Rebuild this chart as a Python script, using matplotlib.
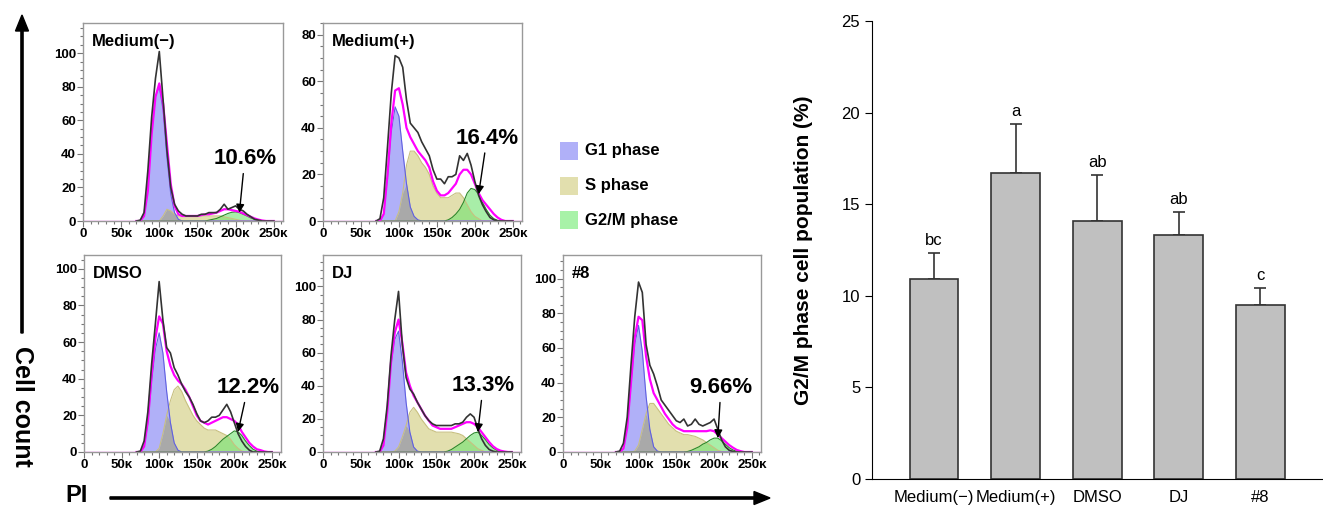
import numpy as np
import matplotlib
matplotlib.use('Agg')
import matplotlib.pyplot as plt
from matplotlib.patches import FancyArrow, Rectangle
from matplotlib.ticker import MultipleLocator

plt.rcParams['font.family'] = ['Liberation Sans', 'DejaVu Sans']

# PI channel (x1000)
pi_k = [70, 75, 80, 85, 90, 95, 100, 105, 110, 115, 120, 125, 130, 135, 140, 145, 150, 155, 160,
        165, 170, 175, 180, 185, 190, 195, 200, 205, 210, 215, 220, 225, 230, 235, 240, 245, 250]

# Medium(-)
mneg_g1 = [0, 0, 3, 18, 52, 74, 80, 66, 38, 16, 5, 1] + [0] * 25
mneg_s = [0] * 7 + [3, 7, 6, 4, 3, 3, 3, 3, 3, 3, 3, 3, 3, 3, 3, 3, 2.5, 2, 1.5, 1, 0.5] + [0] * 9
mneg_g2m = [0] * 19 + [0.5, 1, 1.5, 2.5, 3.5, 4.5, 5.2, 5.4, 5, 4, 3, 1.8, 1, 0.4] + [0] * 4
mneg_fit = [0, 0, 3, 18, 52, 74, 82, 70, 46, 22, 9, 4, 3, 3, 3, 3, 3, 3.5, 4, 4, 4.5, 5, 6, 7, 7,
            6.5, 6, 5.5, 4.5, 3.5, 2.5, 1.5, 0.8, 0.3, 0, 0, 0]
mneg_data = [0, 0.5, 5, 30, 62, 85, 101, 72, 42, 20, 10, 6, 4, 3, 3, 3, 3, 4, 4, 5, 5, 5, 7, 10, 7,
             8, 9, 7, 6, 4, 2.5, 1, 0.5, 0, 0, 0, 0]

# Medium(+)
mpos_g1 = [0, 0, 3, 18, 38, 49, 45, 30, 16, 6, 2, 0.5] + [0] * 25
mpos_s = [0] * 5 + [0, 4, 12, 24, 30, 30, 28, 25, 23, 20, 15, 12, 10, 10, 10, 11, 12, 12, 10, 7, 4, 2, 1] + [0] * 9
mpos_g2m = [0] * 19 + [0.5, 1.5, 3, 5, 8, 12, 14, 13.5, 11.5, 8, 5, 2.5, 1, 0.3] + [0] * 4
mpos_fit = [0, 0, 3, 20, 42, 56, 57, 50, 40, 36, 33, 30, 28, 26, 23, 17, 13, 11, 11, 12, 14, 16, 20,
            22, 22, 20, 16, 12, 9, 7, 5, 3, 1.5, 0.5, 0, 0, 0]
mpos_data = [0, 1, 10, 32, 55, 71, 70, 66, 52, 42, 40, 38, 34, 31, 28, 22, 18, 18, 16, 19, 19, 20, 28,
             26, 29, 24, 17, 11, 7, 4, 1.5, 0.5, 0, 0, 0, 0, 0]

# DMSO
dmso_g1 = [0, 0, 3, 15, 38, 56, 65, 54, 33, 16, 5, 1] + [0] * 25
dmso_s = [0] * 6 + [2, 10, 20, 28, 34, 36, 33, 28, 24, 20, 17, 15, 13, 12, 12, 12, 11, 10, 9, 7, 4, 2, 0.5] + [0] * 8
dmso_g2m = [0] * 19 + [0.5, 1.5, 3, 5, 7, 8.5, 10, 11.5, 11, 9, 6, 3.5, 1.5, 0.5] + [0] * 4
dmso_fit = [0, 0, 3, 17, 42, 62, 74, 70, 55, 47, 42, 39, 37, 34, 30, 25, 20, 17, 16, 15, 16, 17, 18,
            19, 19, 18, 17, 15, 11, 8, 5, 3, 1.5, 1, 0.3, 0, 0]
dmso_data = [0, 0.5, 6, 22, 48, 70, 93, 72, 57, 54, 46, 42, 37, 33, 30, 26, 21, 17, 16, 17, 19, 19, 20,
             23, 26, 22, 16, 10, 6, 3, 1, 0, 0, 0, 0, 0, 0]

# DJ
dj_g1 = [0, 0, 4, 24, 52, 68, 73, 55, 30, 12, 3, 0.5] + [0] * 25
dj_s = [0] * 5 + [0.5, 3, 9, 16, 24, 27, 24, 20, 17, 14, 13, 12, 12, 12, 12, 12, 11.5, 11, 10, 8, 6, 4, 2, 1] + [0] * 8
dj_g2m = [0] * 19 + [0.5, 1.5, 3, 4.5, 6, 8, 10, 11.5, 12, 10, 7.5, 4.5, 2.5, 1, 0.3] + [0] * 3
dj_fit = [0, 0, 4, 24, 54, 72, 80, 66, 48, 40, 34, 30, 26, 22, 19, 16, 15, 14, 14, 14, 14, 15, 16,
          17, 18, 18, 17, 15, 12, 9, 6, 3.5, 1.8, 0.8, 0.3, 0, 0]
dj_data = [0, 0.5, 8, 28, 58, 80, 97, 65, 45, 38, 35, 30, 26, 22, 19, 17, 16, 16, 16, 16, 16, 17, 17,
           18, 21, 23, 21, 14, 8, 4, 1.5, 0.5, 0, 0, 0, 0, 0]

# #8
n8_g1 = [0, 0, 2, 14, 38, 62, 73, 58, 32, 13, 3, 0.5] + [0] * 25
n8_s = [0] * 5 + [0.5, 4, 13, 22, 28, 28, 25, 22, 19, 16, 14, 12, 11, 10, 10, 9.5, 9, 8, 7, 5.5, 4, 2.5, 1, 0.3] + [0] * 8
n8_g2m = [0] * 19 + [0.3, 1, 2, 3, 4.5, 5.5, 7, 8, 8, 6.5, 4.5, 2.5, 1.2, 0.4] + [0] * 4
n8_fit = [0, 0, 2, 14, 40, 66, 78, 76, 55, 42, 34, 30, 26, 22, 19, 16, 14, 13, 12, 12, 12, 12, 12,
          12, 12, 12.5, 12, 10, 8, 6, 4, 2.5, 1.2, 0.5, 0, 0, 0]
n8_data = [0, 0.5, 5, 20, 50, 78, 98, 92, 62, 50, 45, 38, 30, 27, 24, 21, 18, 17, 19, 15, 16, 19, 16,
           15, 16, 17, 19, 13, 7, 3, 1, 0.3, 0, 0, 0, 0, 0]

groups = ['Medium(\u2212)', 'Medium(+)', 'DMSO', 'DJ', '#8']
g2m_pct = ['10.6%', '16.4%', '12.2%', '13.3%', '9.66%']

# bar chart: G2/M population (%)
g2m_mean = [10.9, 16.7, 14.1, 13.3, 9.5]
g2m_sd = [1.45, 2.7, 2.5, 1.3, 0.95]
letters = ['bc', 'a', 'ab', 'ab', 'c']

panels = [
    (mneg_g1, mneg_s, mneg_g2m, mneg_fit, mneg_data),
    (mpos_g1, mpos_s, mpos_g2m, mpos_fit, mpos_data),
    (dmso_g1, dmso_s, dmso_g2m, dmso_fit, dmso_data),
    (dj_g1, dj_s, dj_g2m, dj_fit, dj_data),
    (n8_g1, n8_s, n8_g2m, n8_fit, n8_data),
]

W, H = 1323, 508
# panel boxes in pixels: left, top, width, height
hist_box = [(83, 23, 200, 198), (323, 23, 199, 198), (84, 255, 197, 197),
            (323, 255, 198, 197), (563, 255, 198, 197)]
ytops = [118, 85, 107.5, 119, 113.6]
label_xy = [(212, 37), (216, 35.5), (218, 35), (212, 40), (209, 37)]

fig = plt.figure(figsize=(W / 100, H / 100), dpi=100)

ov = fig.add_axes([0, 0, 1, 1])
ov.set_xlim(0, W)
ov.set_ylim(H, 0)
ov.axis('off')

xs = np.array(pi_k) * 1000.0
tick_x = [0, 50000, 100000, 150000, 200000, 250000]
tick_lab = ['0', '50\u1d0b', '100\u1d0b', '150\u1d0b', '200\u1d0b', '250\u1d0b']

for i, (g1, s, g2m, fit, data) in enumerate(panels):
    l, t, w, h = hist_box[i]
    ax = fig.add_axes([l / W, 1 - (t + h) / H, w / W, h / H])
    g1 = np.array(g1, float)
    s = np.array(s, float)
    g2m = np.array(g2m, float)

    ax.fill_between(xs, 0, s, color='#e2dfae', lw=0)
    ax.fill_between(xs, 0, g1, color='#b0b0f8', lw=0)
    ax.fill_between(xs, 0, np.minimum(g1, s), color='#a9a9a9', lw=0)
    ax.fill_between(xs, 0, g2m, color='#6fe36f', alpha=0.6, lw=0)
    ax.plot(xs, s, color='#c8c080', lw=0.8)
    ax.plot(xs, g1, color='#6060e0', lw=0.8)
    ax.plot(xs, g2m, color='#2a8a2a', lw=0.8)
    ax.axhline(0, color='#ff66ff', lw=1)
    ax.plot(xs, fit, color='#ff00ff', lw=1.6)
    ax.plot(xs, data, color='#333333', lw=1.2)

    ax.set_xlim(0, 262144)
    ax.set_ylim(0, ytops[i])
    ax.set_xticks(tick_x)
    ax.set_xticklabels(tick_lab)
    ax.xaxis.set_minor_locator(MultipleLocator(10000))
    ax.yaxis.set_major_locator(MultipleLocator(20))
    ax.yaxis.set_minor_locator(MultipleLocator(5))
    ax.tick_params(which='both', direction='out', color='#777777', width=0.8)
    ax.tick_params(which='major', length=4, labelsize=9.5, pad=1)
    ax.tick_params(which='minor', length=2)
    for lab in ax.get_xticklabels() + ax.get_yticklabels():
        lab.set_fontweight('bold')
    for sp in ax.spines.values():
        sp.set_color('#999999')
        sp.set_linewidth(1)

    ax.text(0.045, 0.905, groups[i], transform=ax.transAxes, fontsize=12,
            fontweight='bold', ha='left', va='center')
    tip = pi_k.index(205)
    ax.annotate(g2m_pct[i], xy=(205000, g2m[tip]),
                xytext=(label_xy[i][0] * 1000, label_xy[i][1]),
                ha='center', va='center', fontsize=16, fontweight='bold',
                arrowprops=dict(arrowstyle='-|>', color='black', lw=1,
                                shrinkA=1, shrinkB=0, mutation_scale=12))

# legend
leg_items = [('G1 phase', '#b0b0f8'), ('S phase', '#e2dfae'), ('G2/M phase', '#a8f2a8')]
for k, (name, col) in enumerate(leg_items):
    yc = 151 + k * 34.5
    ov.add_patch(Rectangle((560, yc - 9), 18, 18, color=col, lw=0))
    ov.text(585, yc, name, fontsize=12, fontweight='bold', ha='left', va='center')

# axis arrows
ov.add_patch(FancyArrow(22, 333, 0, -318, width=2.2, head_width=13, head_length=16,
                        length_includes_head=True, color='black'))
ov.add_patch(FancyArrow(110, 498, 660, 0, width=2.2, head_width=13, head_length=16,
                        length_includes_head=True, color='black'))
ov.text(22, 406, 'Cell count', rotation=270, fontsize=18, fontweight='bold',
        ha='center', va='center')
ov.text(77, 496, 'PI', fontsize=17, fontweight='bold', ha='center', va='center')

# bar chart
bx = fig.add_axes([872 / W, 1 - 479 / H, (W - 872) / W, (479 - 21) / H])
pos = np.arange(len(groups))
bx.bar(pos, g2m_mean, width=0.6, color='#c0c0c0', edgecolor='#333333', lw=1.2, zorder=2)
bx.errorbar(pos, g2m_mean, yerr=[np.zeros(len(pos)), g2m_sd], fmt='none',
            ecolor='#333333', elinewidth=1.2, capsize=4, capthick=1.2, zorder=1)
for p, m, sd, lt in zip(pos, g2m_mean, g2m_sd, letters):
    bx.text(p, m + sd + 0.25, lt, ha='center', va='bottom', fontsize=12)
bx.set_xlim(-0.76, 4.77)
bx.set_ylim(0, 25)
bx.set_yticks([0, 5, 10, 15, 20, 25])
bx.set_xticks(pos)
bx.set_xticklabels(groups)
bx.tick_params(axis='x', length=0, labelsize=12, pad=8)
bx.tick_params(axis='y', length=5, labelsize=12, direction='out')
bx.spines['top'].set_visible(False)
bx.spines['right'].set_visible(False)
bx.set_ylabel('G2/M phase cell population (%)', fontsize=15, fontweight='bold')
bx.yaxis.set_label_coords(-0.131, 0.5)

fig.savefig('out.png', dpi=100)
